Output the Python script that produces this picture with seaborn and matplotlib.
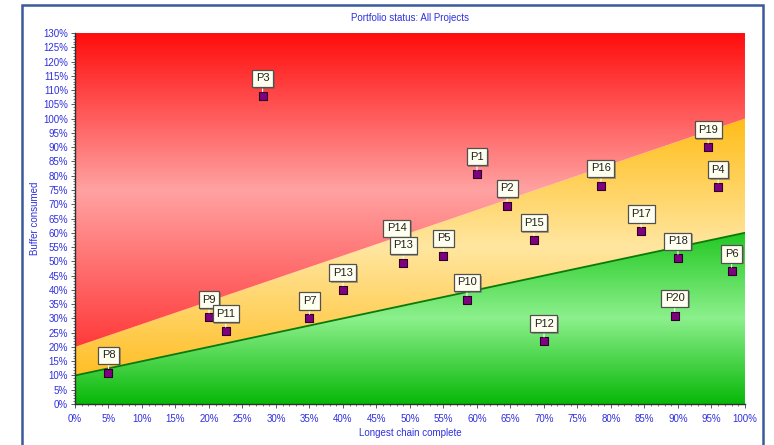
import matplotlib
matplotlib.use("Agg")
import matplotlib.pyplot as plt
from matplotlib.colors import LinearSegmentedColormap
from matplotlib.patches import Polygon, Rectangle
from matplotlib.ticker import MultipleLocator, FuncFormatter
import matplotlib.patheffects as pe
import numpy as np
import pandas as pd
import seaborn as sns

# project points (percent complete, percent buffer consumed)
projects = ['P8', 'P9', 'P11', 'P3', 'P7', 'P13', 'P14', 'P13', 'P5', 'P10',
            'P1', 'P2', 'P15', 'P12', 'P16', 'P17', 'P18', 'P20', 'P19', 'P4', 'P6']
chain_complete = [5, 20, 22.5, 28, 35, 40, 48, 49, 55, 58.5,
                  60, 64.5, 68.5, 70, 78.5, 84.5, 90, 89.5, 94.5, 96, 98]
buffer_consumed = [11, 30.5, 25.5, 108, 30, 40, 55.5, 49.5, 52, 36.5,
                   80.5, 69.5, 57.5, 22, 76.5, 60.5, 51, 31, 90, 76, 46.5]

# zone boundaries (straight lines from 0% to 100% complete)
green_line = [10, 60]
red_line = [20, 100]

df = pd.DataFrame({'name': projects, 'x': chain_complete, 'y': buffer_consumed})

sns.set_style("white")
plt.rcParams['font.family'] = ['Liberation Sans', 'DejaVu Sans']

fig = plt.figure(figsize=(7.74, 4.45), dpi=100)
ax = fig.add_axes([0.0969, 0.0921, 0.8656, 0.8337])
ax.set_xlim(0, 100)
ax.set_ylim(0, 130)

# outer blue frame
fig.patches.append(Rectangle((22 / 774, -0.05), 741 / 774, 1 - 5 / 445 + 0.05,
                             transform=fig.transFigure, fill=False,
                             edgecolor='#3a5a9c', lw=1.8, zorder=0))


def zone(lo, hi, colors):
    # vertical reflected gradient clipped to the band between two lines
    ymin = min(lo[0], lo[1])
    ymax = max(hi[0], hi[1])
    cmap = LinearSegmentedColormap.from_list('z', colors)
    grad = np.linspace(0, 1, 256).reshape(-1, 1)
    im = ax.imshow(grad, cmap=cmap, aspect='auto', origin='lower',
                   extent=[0, 100, ymin, ymax], zorder=1, interpolation='bilinear')
    poly = Polygon([(0, lo[0]), (100, lo[1]), (100, hi[1]), (0, hi[0])],
                   closed=True, transform=ax.transData, facecolor='none', edgecolor='none')
    ax.add_patch(poly)
    im.set_clip_path(poly)


zone([0, 0], green_line, ['#08b808', '#8cf08c', '#22c822'])
zone(green_line, red_line, ['#ffbf26', '#ffe6a0', '#ffbd18'])
zone(red_line, [130, 130], ['#ff3a3a', '#ffa2a2', '#ff0d0d'])

ax.plot([0, 100], green_line, color='#0a7a0a', lw=1.3, zorder=2)

sns.scatterplot(data=df, x='x', y='y', marker='s', s=40, color='#800080',
                edgecolor='#2a002a', linewidth=0.8, zorder=3, ax=ax, legend=False)

for name, x, y in zip(projects, chain_complete, buffer_consumed):
    ann = ax.annotate(name, (x, y), xytext=(0, 12.5), textcoords='offset points',
                      ha='center', va='center', fontsize=8, color='#202020', zorder=5,
                      bbox=dict(boxstyle='square,pad=0.32', fc='#fffff0', ec='#505050', lw=0.9),
                      arrowprops=dict(arrowstyle='-', color='white', lw=0.8,
                                      shrinkA=0, shrinkB=3))
    ann.get_bbox_patch().set_path_effects(
        [pe.SimplePatchShadow(offset=(1.2, -1.2), shadow_rgbFace='#606060', alpha=0.5),
         pe.Normal()])

ax.set_title('Portfolio status: All Projects', fontsize=7, color='#3030e0', pad=9)
ax.set_xlabel('Longest chain complete', fontsize=7, color='#3030e0', labelpad=3)
ax.set_ylabel('Buffer consumed', fontsize=7, color='#3030e0', labelpad=2)

pct = FuncFormatter(lambda v, p: '%d%%' % round(v))
ax.xaxis.set_major_locator(MultipleLocator(5))
ax.yaxis.set_major_locator(MultipleLocator(5))
ax.xaxis.set_minor_locator(MultipleLocator(1))
ax.yaxis.set_minor_locator(MultipleLocator(1))
ax.xaxis.set_major_formatter(pct)
ax.yaxis.set_major_formatter(pct)
ax.tick_params(axis='both', which='major', labelsize=7, labelcolor='#3030e0',
               length=3, width=0.6, color='#404040', pad=2, bottom=True, left=True)
ax.tick_params(axis='x', which='major', pad=4)
ax.tick_params(axis='both', which='minor', length=1.5, width=0.5, color='#404040',
               bottom=True, left=True)

for side in ['top', 'right']:
    ax.spines[side].set_visible(False)
for side in ['left', 'bottom']:
    ax.spines[side].set_color('#303030')
    ax.spines[side].set_linewidth(1.0)
    ax.spines[side].set_zorder(6)

fig.savefig('out.png', dpi=100)
